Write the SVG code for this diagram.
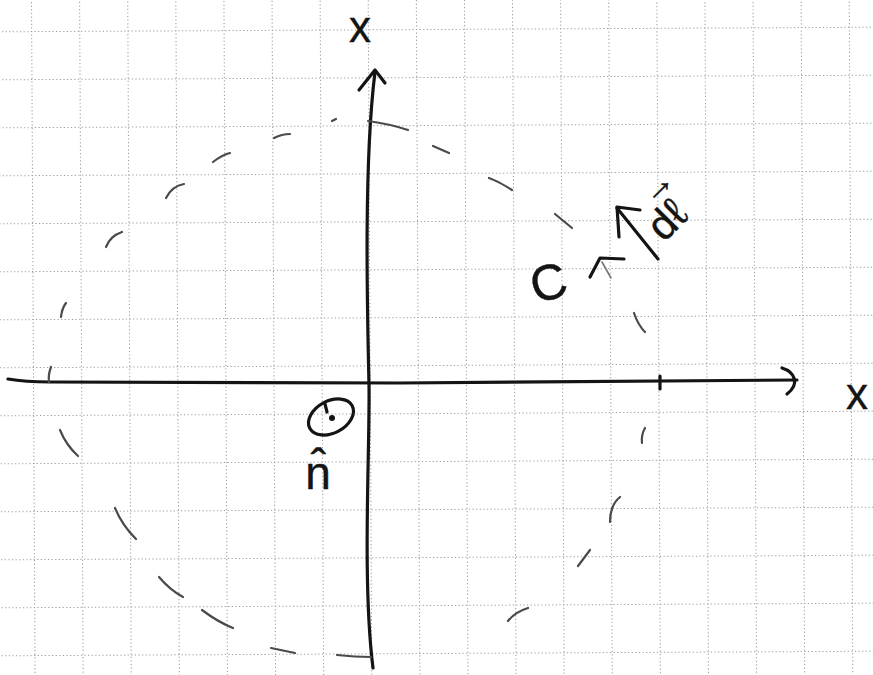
<svg xmlns="http://www.w3.org/2000/svg" width="873" height="675" viewBox="0 0 873 675">
<style>
.grid line{stroke:#9a9a9a;stroke-width:1;stroke-dasharray:1.2 2.4}
.ink{fill:none;stroke:#141414;stroke-width:3.2;stroke-linecap:round;stroke-linejoin:round}
.dash{fill:none;stroke:#4a4a4a;stroke-width:2.2;stroke-linecap:round}
.faint{fill:none;stroke:#777;stroke-width:1.6;stroke-linecap:round}
.hand{font-family:"Liberation Sans","DejaVu Sans",sans-serif;fill:#141414;stroke:#141414;stroke-width:0.4}
</style>
<rect width="873" height="675" fill="#fff"/>
<g id="grid" class="grid" transform="rotate(-0.3 436 337)">
<line x1="33.3" y1="0" x2="33.3" y2="675"/><line x1="81.4" y1="0" x2="81.4" y2="675"/><line x1="129.5" y1="0" x2="129.5" y2="675"/><line x1="177.6" y1="0" x2="177.6" y2="675"/><line x1="225.7" y1="0" x2="225.7" y2="675"/><line x1="273.8" y1="0" x2="273.8" y2="675"/><line x1="321.9" y1="0" x2="321.9" y2="675"/><line x1="370" y1="0" x2="370" y2="675"/><line x1="418.1" y1="0" x2="418.1" y2="675"/><line x1="466.2" y1="0" x2="466.2" y2="675"/><line x1="514.3" y1="0" x2="514.3" y2="675"/><line x1="562.4" y1="0" x2="562.4" y2="675"/><line x1="610.5" y1="0" x2="610.5" y2="675"/><line x1="658.6" y1="0" x2="658.6" y2="675"/><line x1="706.7" y1="0" x2="706.7" y2="675"/><line x1="754.8" y1="0" x2="754.8" y2="675"/><line x1="802.9" y1="0" x2="802.9" y2="675"/><line x1="851" y1="0" x2="851" y2="675"/>
<line x1="0" y1="29.5" x2="873" y2="29.5"/><line x1="0" y1="77.5" x2="873" y2="77.5"/><line x1="0" y1="125.5" x2="873" y2="125.5"/><line x1="0" y1="173.5" x2="873" y2="173.5"/><line x1="0" y1="221.5" x2="873" y2="221.5"/><line x1="0" y1="269.5" x2="873" y2="269.5"/><line x1="0" y1="317.5" x2="873" y2="317.5"/><line x1="0" y1="365.5" x2="873" y2="365.5"/><line x1="0" y1="413.5" x2="873" y2="413.5"/><line x1="0" y1="461.5" x2="873" y2="461.5"/><line x1="0" y1="509.5" x2="873" y2="509.5"/><line x1="0" y1="557.5" x2="873" y2="557.5"/><line x1="0" y1="605.5" x2="873" y2="605.5"/><line x1="0" y1="653.5" x2="873" y2="653.5"/>
</g>
<g id="connectors">
<path class="ink" d="M8,379 Q25,382 50,382 L400,383 L797,380"/>
<path class="ink" d="M782,368 C795,372 800,384 787,394"/>
<path class="ink" stroke-width="2" d="M660,376 L660,389"/>
<path class="ink" d="M373,668 C362,580 370,450 369,385 C367,300 364,160 375,72"/>
<path class="ink" d="M359,90 L375,70 L385,83"/>
</g>
<g id="curve-C">
<path class="dash" d="M332,121 L336,119"/>
<path class="dash" d="M368,121 Q390,124 408,130"/>
<path class="dash" d="M433,146 L449,153"/>
<path class="dash" d="M489,178 Q500,182 512,190"/>
<path class="dash" d="M555,214 L572,228"/>
<path class="dash" d="M634,313 Q638,325 645,332"/>
<path class="dash" d="M645,428 Q641,435 642,443"/>
<path class="dash" d="M620,497 Q610,505 610,522"/>
<path class="dash" d="M590,550 L578,566"/>
<path class="dash" d="M528,608 Q515,612 508,621"/>
<path class="dash" d="M337,655 Q355,657 371,657"/>
<path class="dash" d="M271,648 L295,653"/>
<path class="dash" d="M202,610 Q218,622 233,628"/>
<path class="dash" d="M159,577 Q170,590 183,597"/>
<path class="dash" d="M115,508 Q122,525 136,539"/>
<path class="dash" d="M60,430 Q66,445 78,456"/>
<path class="dash" d="M51,367 Q48,375 49,382"/>
<path class="dash" d="M61,317 Q62,308 66,303"/>
<path class="dash" d="M106,247 Q110,236 122,232"/>
<path class="dash" d="M166,198 Q172,186 184,184"/>
<path class="dash" d="M213,162 Q222,155 230,153"/>
<path class="dash" d="M274,138 Q282,134 290,134"/>
<path class="ink" d="M590,277 L600,258 L624,259"/>
<path class="faint" d="M602,262 L611,278"/>
</g>
<g id="dl-vector">
<path class="ink" d="M658,259 L617,208"/>
<path class="ink" d="M640,210 L617,207 L619,237"/>
</g>
<g id="label-C"><text class="hand" font-size="50" text-anchor="middle" transform="translate(553,299) rotate(-15)">C</text></g>
<g id="label-dl" transform="translate(664,243) rotate(-45)">
<text class="hand" font-size="42" x="0" y="0">dℓ<tspan font-size="34" x="18" y="-34">→</tspan></text>
</g>
<g id="label-x-top"><text class="hand" font-size="44" text-anchor="middle" x="360" y="42">x</text></g>
<g id="label-x-right"><text class="hand" font-size="44" text-anchor="middle" x="857" y="409">x</text></g>
<g id="normal-n">
<ellipse cx="331" cy="417" rx="24" ry="16" transform="rotate(-28 331 417)" class="ink"/>
<circle cx="332" cy="418" r="3" fill="#141414"/>
<path class="ink" stroke-width="2.4" d="M325,404 L327,412"/>
<text class="hand" font-family="DejaVu Sans, sans-serif" font-size="46" stroke-width="0.8" text-anchor="middle" x="318" y="489">n̂</text>
</g>
</svg>
